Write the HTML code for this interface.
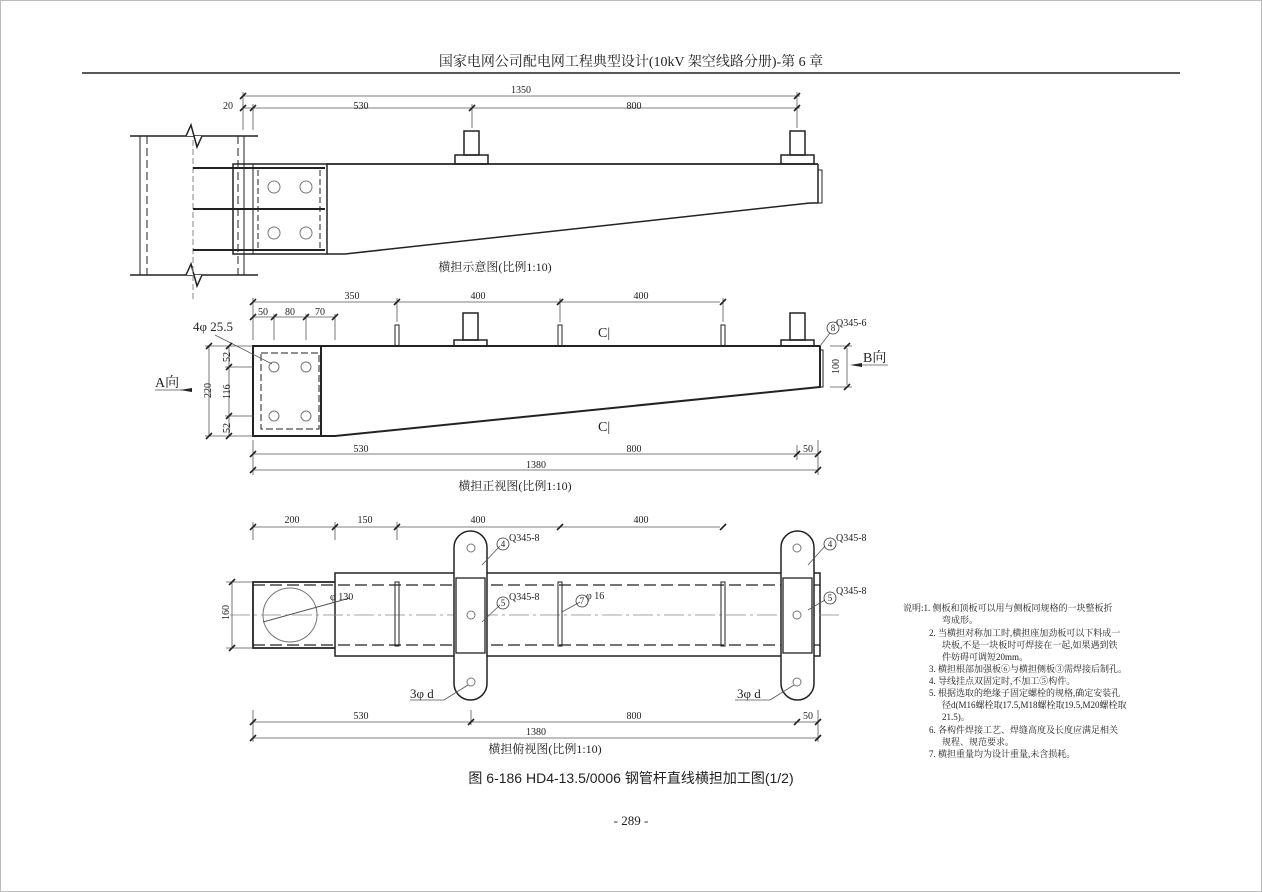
<!DOCTYPE html><html><head><meta charset="utf-8"><style>
html,body{margin:0;padding:0;background:#fff;width:1262px;height:892px;overflow:hidden}
text{font-family:"Liberation Serif","Noto Serif CJK SC",serif;fill:#222}
.s{font-family:"Liberation Sans","Noto Sans CJK SC",sans-serif}
</style></head><body>
<svg width="1262" height="892" viewBox="0 0 1262 892" xmlns="http://www.w3.org/2000/svg">
<defs><path id="t" d="M-3,3 L3,-3" stroke="#222" stroke-width="1.6"/></defs>
<g stroke="#222" fill="none" stroke-width="1">
<rect x="0.5" y="0.5" width="1261" height="891" stroke="#bbb"/>
<line x1="82" y1="73" x2="1180" y2="73" stroke-width="1.5"/>
<!-- View 1 -->
<line x1="130" y1="136" x2="258" y2="136" stroke-width="1.5"/>
<line x1="130" y1="275" x2="258" y2="275" stroke-width="1.5"/>
<polyline points="186,136 191,125 197,147 202,136" fill="#fff" stroke-width="1.5"/>
<polyline points="186,275 191,264 197,286 202,275" fill="#fff" stroke-width="1.5"/>
<line x1="140" y1="136" x2="140" y2="275"/>
<line x1="147" y1="136" x2="147" y2="275" stroke-dasharray="8,4"/>
<line x1="238" y1="136" x2="238" y2="275" stroke-dasharray="8,4"/>
<line x1="244" y1="136" x2="244" y2="275"/>
<line x1="193" y1="140" x2="193" y2="300" stroke="#888" stroke-dasharray="6,3"/>
<line x1="193" y1="168" x2="325" y2="168" stroke-width="2"/>
<line x1="193" y1="209" x2="325" y2="209" stroke-width="2"/>
<line x1="193" y1="250" x2="325" y2="250" stroke-width="2"/>
<rect x="233" y="164" width="94" height="90" stroke-width="1.5"/>
<line x1="253" y1="164" x2="253" y2="254"/>
<line x1="258" y1="170" x2="258" y2="250" stroke-dasharray="6,3"/>
<line x1="320" y1="170" x2="320" y2="250" stroke-dasharray="6,3"/>
<line x1="327" y1="164" x2="818" y2="164" stroke-width="1.8"/>
<polyline points="327,254 345,254 810,203 818,203 818,164" stroke-width="1.5"/>
<rect x="818" y="170" width="4" height="33"/>
<circle cx="274" cy="187" r="6" stroke="#777"/><circle cx="306" cy="187" r="6" stroke="#777"/>
<circle cx="274" cy="233" r="6" stroke="#777"/><circle cx="306" cy="233" r="6" stroke="#777"/>
<rect x="464" y="131" width="15" height="24" stroke-width="1.5"/><rect x="455" y="155" width="33" height="9" stroke-width="1.5"/>
<rect x="790" y="131" width="15" height="24" stroke-width="1.5"/><rect x="781" y="155" width="33" height="9" stroke-width="1.5"/>
<g stroke="#555" stroke-width="0.8">
<line x1="243" y1="96" x2="800" y2="96"/><line x1="243" y1="108" x2="800" y2="108"/>
<line x1="243" y1="92" x2="243" y2="130"/><line x1="253" y1="104" x2="253" y2="130"/><line x1="472" y1="104" x2="472" y2="128"/><line x1="797" y1="92" x2="797" y2="128"/>
</g>
<use href="#t" x="243" y="96"/><use href="#t" x="797" y="96"/><use href="#t" x="243" y="108"/><use href="#t" x="253" y="108"/><use href="#t" x="472" y="108"/><use href="#t" x="797" y="108"/>
<!-- View 2 -->
<rect x="253" y="346" width="68" height="90" stroke-width="2"/>
<rect x="261" y="353" width="58" height="76" stroke-dasharray="7,3"/>
<line x1="321" y1="346" x2="820" y2="346" stroke-width="2"/>
<polyline points="321,436 335,436 820,387 820,346" stroke-width="2"/>
<rect x="820" y="350" width="3" height="37"/>
<circle cx="274" cy="367" r="5" stroke="#777"/><circle cx="306" cy="367" r="5" stroke="#777"/>
<circle cx="274" cy="416" r="5" stroke="#777"/><circle cx="306" cy="416" r="5" stroke="#777"/>
<rect x="395" y="325" width="4" height="21"/><rect x="558" y="325" width="4" height="21"/><rect x="721" y="325" width="4" height="21"/>
<rect x="463" y="313" width="15" height="27" stroke-width="1.5"/><rect x="454" y="340" width="33" height="6" stroke-width="1.5"/>
<rect x="790" y="313" width="15" height="27" stroke-width="1.5"/><rect x="781" y="340" width="33" height="6" stroke-width="1.5"/>
<g stroke="#555" stroke-width="0.8">
<line x1="253" y1="302" x2="720" y2="302"/><line x1="253" y1="317" x2="335" y2="317"/>
<line x1="253" y1="298" x2="253" y2="340"/><line x1="397" y1="298" x2="397" y2="322"/><line x1="560" y1="298" x2="560" y2="322"/><line x1="723" y1="298" x2="723" y2="322"/>
<line x1="274" y1="314" x2="274" y2="340"/><line x1="306" y1="314" x2="306" y2="340"/><line x1="335" y1="314" x2="335" y2="340"/>
<line x1="253" y1="454" x2="818" y2="454"/><line x1="253" y1="470" x2="818" y2="470"/>
<line x1="253" y1="440" x2="253" y2="475"/><line x1="818" y1="440" x2="818" y2="475"/><line x1="797" y1="445" x2="797" y2="460"/>
<line x1="209" y1="346" x2="209" y2="436"/><line x1="229" y1="346" x2="229" y2="436"/>
<line x1="205" y1="346" x2="253" y2="346"/><line x1="205" y1="436" x2="253" y2="436"/><line x1="225" y1="367" x2="253" y2="367"/><line x1="225" y1="416" x2="253" y2="416"/>
<line x1="847" y1="348" x2="847" y2="385"/><line x1="830" y1="346" x2="852" y2="346"/><line x1="830" y1="387" x2="852" y2="387"/>
<line x1="155" y1="390" x2="190" y2="390"/><line x1="860" y1="365" x2="888" y2="365"/>
<line x1="215" y1="335" x2="272" y2="364"/><line x1="820" y1="346" x2="830" y2="333"/>
</g>
<path d="M180,390 L192,388 L192,392Z" fill="#222" stroke="none"/><path d="M850,365 L862,363 L862,367Z" fill="#222" stroke="none"/>
<use href="#t" x="253" y="302"/><use href="#t" x="397" y="302"/><use href="#t" x="560" y="302"/><use href="#t" x="723" y="302"/>
<use href="#t" x="253" y="317"/><use href="#t" x="274" y="317"/><use href="#t" x="306" y="317"/><use href="#t" x="335" y="317"/>
<use href="#t" x="253" y="454"/><use href="#t" x="797" y="454"/><use href="#t" x="818" y="454"/><use href="#t" x="253" y="470"/><use href="#t" x="818" y="470"/>
<use href="#t" x="209" y="346"/><use href="#t" x="209" y="436"/><use href="#t" x="229" y="346"/><use href="#t" x="229" y="367"/><use href="#t" x="229" y="416"/><use href="#t" x="229" y="436"/>
<use href="#t" x="847" y="346"/><use href="#t" x="847" y="387"/>
<!-- View 3 -->
<polyline points="335,582 253,582 253,648 335,648" stroke-width="1.8"/>
<rect x="335" y="573" width="485" height="83" stroke-width="1.5" />
<line x1="253" y1="585" x2="820" y2="585" stroke-dasharray="12,5" stroke-width="1.3"/>
<line x1="253" y1="645" x2="820" y2="645" stroke-dasharray="12,5" stroke-width="1.3"/>
<line x1="230" y1="615" x2="840" y2="615" stroke="#888" stroke-dasharray="20,4,3,4" stroke-width="0.7"/>
<circle cx="290" cy="615" r="27" stroke="#777"/>
<line x1="263" y1="622" x2="350" y2="598" stroke="#555"/>
<rect x="395" y="582" width="4" height="64"/><rect x="558" y="582" width="4" height="64"/><rect x="721" y="582" width="4" height="64"/>
<rect x="454" y="531" width="33" height="169" rx="16.5" fill="#fff" stroke-width="1.5"/>
<rect x="456" y="578" width="29" height="75" stroke-width="1.3"/>
<rect x="781" y="531" width="33" height="169" rx="16.5" fill="#fff" stroke-width="1.5"/>
<rect x="783" y="578" width="29" height="75" stroke-width="1.3"/>
<g stroke="#777"><circle cx="471" cy="548" r="4"/><circle cx="471" cy="615" r="4"/><circle cx="471" cy="682" r="4"/>
<circle cx="797" cy="548" r="4"/><circle cx="797" cy="615" r="4"/><circle cx="797" cy="682" r="4"/></g>
<g stroke="#555" stroke-width="0.8">
<line x1="253" y1="527" x2="720" y2="527"/><line x1="253" y1="522" x2="253" y2="540"/><line x1="335" y1="522" x2="335" y2="540"/><line x1="397" y1="522" x2="397" y2="540"/>
<line x1="253" y1="722" x2="818" y2="722"/><line x1="253" y1="738" x2="818" y2="738"/>
<line x1="253" y1="710" x2="253" y2="742"/><line x1="818" y1="710" x2="818" y2="742"/><line x1="471" y1="710" x2="471" y2="725"/>
<line x1="232" y1="582" x2="232" y2="648"/><line x1="226" y1="582" x2="253" y2="582"/><line x1="226" y1="648" x2="253" y2="648"/>
<line x1="410" y1="700" x2="444" y2="700"/><line x1="444" y1="700" x2="468" y2="685"/>
<line x1="735" y1="700" x2="770" y2="700"/><line x1="770" y1="700" x2="794" y2="685"/>
<line x1="482" y1="565" x2="500" y2="546"/><line x1="482" y1="622" x2="500" y2="605"/>
<line x1="808" y1="565" x2="825" y2="546"/><line x1="808" y1="610" x2="825" y2="600"/>
<line x1="562" y1="612" x2="580" y2="602"/>
</g>
<use href="#t" x="253" y="527"/><use href="#t" x="335" y="527"/><use href="#t" x="397" y="527"/><use href="#t" x="560" y="527"/><use href="#t" x="723" y="527"/>
<use href="#t" x="253" y="722"/><use href="#t" x="471" y="722"/><use href="#t" x="797" y="722"/><use href="#t" x="818" y="722"/><use href="#t" x="253" y="738"/><use href="#t" x="818" y="738"/>
<use href="#t" x="232" y="582"/><use href="#t" x="232" y="648"/>
</g>
<g font-size="13">
<text x="631" y="66" text-anchor="middle" font-size="14">国家电网公司配电网工程典型设计(10kV 架空线路分册)-第 6 章</text>
<g font-size="10">
<text x="521" y="93" text-anchor="middle">1350</text>
<text x="228" y="109" text-anchor="middle">20</text>
<text x="361" y="109" text-anchor="middle">530</text>
<text x="634" y="109" text-anchor="middle">800</text>
<text x="352" y="299" text-anchor="middle">350</text>
<text x="478" y="299" text-anchor="middle">400</text>
<text x="641" y="299" text-anchor="middle">400</text>
<text x="263" y="315" text-anchor="middle">50</text>
<text x="290" y="315" text-anchor="middle">80</text>
<text x="320" y="315" text-anchor="middle">70</text>
<text x="361" y="452" text-anchor="middle">530</text>
<text x="634" y="452" text-anchor="middle">800</text>
<text x="808" y="452" text-anchor="middle">50</text>
<text x="536" y="468" text-anchor="middle">1380</text>
<text x="836" y="326">Q345-6</text>
<text x="292" y="523" text-anchor="middle">200</text>
<text x="365" y="523" text-anchor="middle">150</text>
<text x="478" y="523" text-anchor="middle">400</text>
<text x="641" y="523" text-anchor="middle">400</text>
<text x="361" y="719" text-anchor="middle">530</text>
<text x="634" y="719" text-anchor="middle">800</text>
<text x="808" y="719" text-anchor="middle">50</text>
<text x="536" y="735" text-anchor="middle">1380</text>
<text x="509" y="541">Q345-8</text><text x="509" y="600">Q345-8</text>
<text x="836" y="541">Q345-8</text><text x="836" y="594">Q345-8</text>
<text x="330" y="600">φ 130</text><text x="586" y="599">φ 16</text>
<text transform="translate(211,398) rotate(-90)">220</text>
<text transform="translate(230,362) rotate(-90)">52</text>
<text transform="translate(230,399) rotate(-90)">116</text>
<text transform="translate(230,433) rotate(-90)">52</text>
<text transform="translate(839,374) rotate(-90)">100</text>
<text transform="translate(229,620) rotate(-90)">160</text>
</g>
<g font-size="11" fill="none" stroke="#333" stroke-width="0.8">
<circle cx="833" cy="328" r="6"/><circle cx="503" cy="544" r="6"/><circle cx="503" cy="603" r="6"/>
<circle cx="830" cy="544" r="6"/><circle cx="830" cy="598" r="6"/><circle cx="582" cy="601" r="6"/>
</g>
<g font-size="9" text-anchor="middle">
<text x="833" y="331">8</text><text x="503" y="547">4</text><text x="503" y="606">5</text>
<text x="830" y="547">4</text><text x="830" y="601">5</text><text x="582" y="604">7</text>
</g>
<text x="495" y="271" text-anchor="middle" font-size="12">横担示意图(比例1:10)</text>
<text x="515" y="490" text-anchor="middle" font-size="12">横担正视图(比例1:10)</text>
<text x="545" y="753" text-anchor="middle" font-size="12">横担俯视图(比例1:10)</text>
<text x="193" y="331" font-size="13">4φ 25.5</text>
<text x="155" y="387" font-size="14">A向</text>
<text x="863" y="362" font-size="14">B向</text>
<text x="598" y="337" font-size="14">C|</text>
<text x="598" y="431" font-size="14">C|</text>
<text x="410" y="698" font-size="13">3φ d</text>
<text x="737" y="698" font-size="13">3φ d</text>
<text x="631" y="783" text-anchor="middle" font-size="14" class="s">图 6-186  HD4-13.5/0006 钢管杆直线横担加工图(1/2)</text>
<text x="631" y="825" text-anchor="middle" font-size="13">- 289 -</text>
<g font-size="9">
<text x="903" y="611">说明:1. 侧板和顶板可以用与侧板同规格的一块整板折</text>
<text x="942" y="623">弯成形。</text>
<text x="929" y="636">2. 当横担对称加工时,横担座加劲板可以下料成一</text>
<text x="942" y="648">块板,不是一块板时可焊接在一起,如果遇到铁</text>
<text x="942" y="660">件妨碍可调短20mm。</text>
<text x="929" y="672">3. 横担根部加强板⑥与横担侧板③需焊接后制孔。</text>
<text x="929" y="684">4. 导线挂点双固定时,不加工⑤构件。</text>
<text x="929" y="696">5. 根据选取的绝缘子固定螺栓的规格,确定安装孔</text>
<text x="942" y="708">径d(M16螺栓取17.5,M18螺栓取19.5,M20螺栓取</text>
<text x="942" y="720">21.5)。</text>
<text x="929" y="733">6. 各构件焊接工艺、焊缝高度及长度应满足相关</text>
<text x="942" y="745">规程、规范要求。</text>
<text x="929" y="757">7. 横担重量均为设计重量,未含损耗。</text>
</g>
</g>
</svg>
</body></html>
